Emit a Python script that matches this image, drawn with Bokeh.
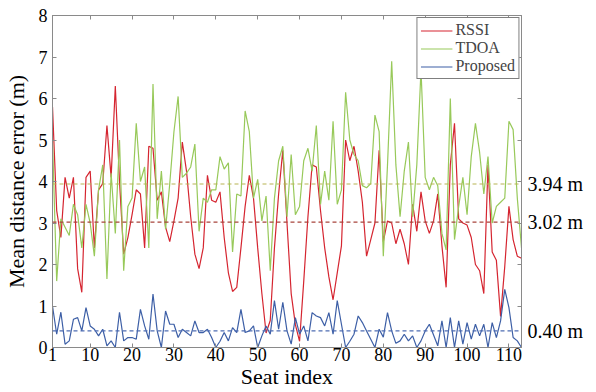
from bokeh.plotting import figure
from bokeh.models import (LinearAxis, FixedTicker, Span, Legend, LegendItem,
                          Range1d, CustomJSTickFormatter)
from bokeh.embed import file_html
from bokeh.resources import INLINE

seat = list(range(1, 114))
rssi = [5.8, 3.3, 2.65, 4.1, 3.6, 4.1, 1.9, 1.33, 4.1, 4.25,
        2.4, 3.8, 3.95, 5.35, 4.1, 6.3, 4.0, 2.25, 2.65, 3.2,
        3.8, 3.7, 2.4, 4.85, 4.8, 3.55, 3.75, 2.9, 2.55, 3.05,
        3.6, 4.95, 4.25, 3.15, 2.25, 1.9, 2.4, 4.15, 3.55, 3.5,
        3.75, 2.65, 1.8, 1.35, 1.45, 2.4, 3.4, 4.15, 3.6, 2.4,
        1.3, 0.35, 0.65, 2.4, 3.7, 4.75, 3.0, 1.3, 0.55, 0.15,
        1.6, 3.15, 4.4, 4.35, 3.3, 2.4, 1.7, 1.15, 1.8, 2.45,
        5.0, 4.5, 4.85, 4.25, 3.5, 2.2, 2.6, 3.0, 4.75, 2.55,
        3.05, 3.0, 2.5, 2.85, 2.5, 2.0, 3.45, 2.8, 3.75, 3.05,
        2.75, 3.05, 3.7, 2.45, 1.45, 4.4, 5.4, 3.1, 3.0, 2.95,
        2.65, 2.0, 1.85, 1.3, 4.4, 2.3, 2.1, 0.75, 1.95, 3.4,
        2.6, 2.2, 2.15]
tdoa = [5.0, 1.6, 3.1, 2.9, 2.7, 3.45, 3.2, 2.4, 3.45, 3.0,
        2.2, 3.8, 4.4, 1.65, 4.2, 2.75, 5.0, 1.85, 3.4, 3.6,
        5.4, 4.0, 4.35, 2.4, 6.35, 3.1, 4.25, 2.85, 3.95, 5.2,
        6.05, 4.1, 4.2, 4.35, 4.9, 2.8, 3.6, 3.5, 3.8, 3.8,
        4.6, 4.3, 4.45, 2.3, 3.7, 3.65, 5.7, 5.2, 3.6, 4.05,
        3.05, 3.65, 1.85, 3.6, 4.5, 4.85, 3.15, 4.65, 3.2, 3.4,
        4.5, 4.8, 4.25, 5.35, 3.45, 4.25, 3.55, 5.45, 3.45, 3.8,
        6.15, 5.0, 4.65, 4.5, 3.9, 3.85, 3.95, 5.6, 5.2, 2.2,
        4.4, 6.9, 4.4, 3.15, 4.25, 4.95, 3.15, 4.4, 6.7, 4.1,
        3.8, 4.1, 3.9, 2.75, 2.35, 6.0, 2.6, 3.4, 4.1, 3.2,
        4.6, 5.4, 4.7, 3.7, 4.6, 3.0, 3.4, 3.5, 3.6, 5.45,
        5.25, 3.6, 2.4]
proposed = [1.0, 0.32, 0.85, 0.08, 0.16, 0.68, 0.72, 0.4, 0.96, 0.52,
            0.44, 0.28, 0.44, 0.04, 0.16, 0.0, 0.85, 0.16, 0.24, 0.24,
            0.2, 0.92, 0.52, 0.2, 1.29, 0.4, 0.0, 0.88, 0.56, 0.56,
            0.24, 0.44, 0.36, 0.28, 0.64, 0.36, 0.36, 0.44, 0.24, 0.0,
            0.15, 0.36, 0.16, 0.48, 0.36, 0.92, 0.36, 0.4, 0.52, 0.0,
            0.28, 0.52, 0.32, 1.13, 0.44, 1.09, 0.4, 0.08, 0.72, 0.32,
            0.52, 0.16, 0.84, 0.76, 0.72, 0.52, 0.84, 0.32, 1.13, 0.56,
            0.0, 0.15, 0.32, 0.76, 0.6, 0.4, 0.2, 0.0, 0.44, 0.25,
            0.84, 0.4, 0.1, 0.16, 0.32, 0.16, 0.28, 0.0, 0.16, 0.4,
            0.56, 0.3, 0.04, 0.64, 0.0, 0.72, 0.0, 0.64, 0.08, 0.6,
            0.2, 0.56, 0.28, 0.56, 0.0, 0.6, 0.24, 0.64, 1.4, 0.96,
            0.24, 0.16, 0.0]
series_names = ["RSSI", "TDOA", "Proposed"]
mean_values = [3.02, 3.94, 0.40]
mean_unit = "m"
x_ticks = [1, 10, 20, 30, 40, 50, 60, 70, 80, 90, 100, 110]
y_ticks = [0, 1, 2, 3, 4, 5, 6, 7, 8]

FONT = "Liberation Serif"
line_colors = ["#d52530", "#98c95a", "#3d5fa6"]
dash_colors = ["#a8443c", "#b7b453", "#4f6db3"]
frame_color = "#8a8a8a"

p = figure(width=596, height=392, x_range=Range1d(1, 113), y_range=Range1d(0, 8),
           output_backend="svg", toolbar_location=None,
           min_border_left=50, min_border_right=75, min_border_top=15, min_border_bottom=45)
p.xgrid.visible = False
p.ygrid.visible = False
p.outline_line_color = frame_color
p.background_fill_color = "white"
p.border_fill_color = "white"

def style_axis(ax, ticks):
    ax.ticker = FixedTicker(ticks=ticks)
    ax.axis_line_color = frame_color
    ax.major_tick_line_color = frame_color
    ax.major_tick_in = 4
    ax.major_tick_out = 0
    ax.minor_tick_line_color = None
    ax.major_label_text_font = FONT
    ax.major_label_text_font_size = "18px"
    ax.major_label_text_font_style = "normal"
    ax.major_label_text_color = "black"
    ax.axis_label_text_font = FONT
    ax.axis_label_text_font_size = "22px"
    ax.axis_label_text_font_style = "normal"
    ax.axis_label_text_color = "black"

plain = CustomJSTickFormatter(code="return String(tick)")
style_axis(p.xaxis[0], x_ticks)
style_axis(p.yaxis[0], y_ticks)
p.xaxis[0].formatter = plain
p.yaxis[0].formatter = plain
p.xaxis[0].axis_label = "Seat index"
p.yaxis[0].axis_label = "Mean distance error (m)"
p.xaxis[0].major_label_standoff = 0
p.xaxis[0].axis_label_standoff = 0
p.yaxis[0].major_label_standoff = 5
p.yaxis[0].axis_label_standoff = 7

blank = CustomJSTickFormatter(code="return ''")
top_ax = LinearAxis(formatter=blank, major_label_standoff=0)
style_axis(top_ax, x_ticks)
right_ax = LinearAxis(formatter=blank, major_label_standoff=0)
style_axis(right_ax, y_ticks)
p.add_layout(top_ax, "above")
p.add_layout(right_ax, "right")

# mean-value labels, drawn as tick labels of an extra right axis
mean_ax = LinearAxis(ticker=FixedTicker(ticks=mean_values),
                     formatter=CustomJSTickFormatter(args=dict(unit=mean_unit),
                                                     code="return tick.toFixed(2) + ' ' + unit"))
mean_ax.axis_line_color = None
mean_ax.major_tick_line_color = None
mean_ax.minor_tick_line_color = None
mean_ax.major_tick_in = 0
mean_ax.major_tick_out = 0
mean_ax.major_label_standoff = 6
mean_ax.major_label_text_font = FONT
mean_ax.major_label_text_font_size = "20px"
mean_ax.major_label_text_color = "black"
p.add_layout(mean_ax, "right")

renderers = []
for ys, c in zip([rssi, tdoa, proposed], line_colors):
    renderers.append(p.line(seat, ys, line_color=c, line_width=1.2))

for v, c in zip(mean_values, dash_colors):
    p.add_layout(Span(location=v, dimension="width", line_color=c,
                      line_dash="4 3", line_width=1.1))

legend = Legend(items=[LegendItem(label=n, renderers=[r]) for n, r in zip(series_names, renderers)],
                location="top_right")
legend.border_line_color = "black"
legend.border_line_width = 1
legend.background_fill_color = "white"
legend.background_fill_alpha = 1
legend.label_text_font = FONT
legend.label_text_font_size = "16px"
legend.glyph_width = 32
legend.glyph_height = 15
legend.label_height = 15
legend.label_standoff = 3
legend.spacing = 0
legend.padding = 3
legend.margin = 2
p.add_layout(legend)

open("out.html", "w").write(file_html(p, INLINE))
